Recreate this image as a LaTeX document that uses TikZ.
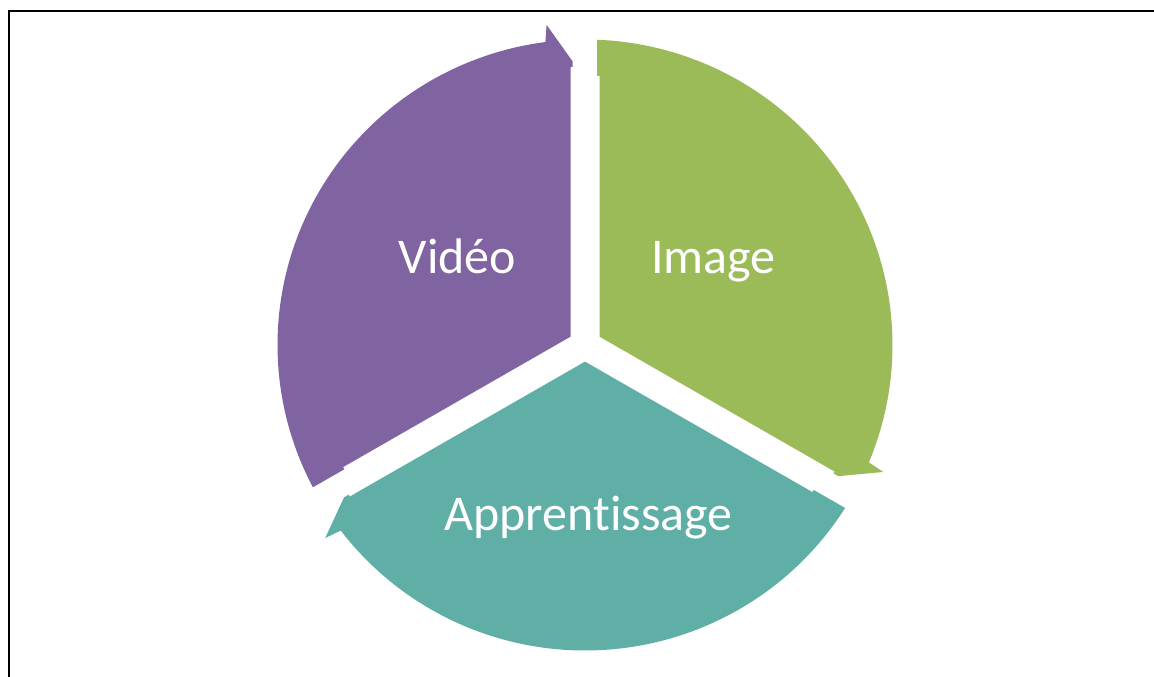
\documentclass[tikz,border=0pt]{standalone}
\usepackage{fontspec}
\newfontfamily\calib[Ligatures={NoCommon,NoContextual,NoRare},Contextuals={NoAlternate}]{Carlito}
\definecolor{segpurple}{HTML}{8064A2}
\definecolor{seggreen}{HTML}{9BBB59}
\definecolor{segteal}{HTML}{5FAFA6}
\tikzset{
  seglabel/.style={text=white, font=\calib\fontsize{50}{60}\selectfont, anchor=base, inner sep=0pt},
  frameline/.style={line width=2pt, black}
}
\newcommand\segshape[1]{%
  \fill[#1] (14.5,8.37) -- (14.5,271) -- (12,271) -- (87.76:307.5pt)
    arc[start angle=87.76, end angle=-22.6, radius=307.5pt]
    -- (-23.2:324.5pt) -- (253.3,-132.0) -- (248.6,-129.35) -- (249.7,-127.44) -- cycle;}
\begin{document}
\begin{tikzpicture}[x=1pt,y=1pt]
\useasboundingbox (0,0) rectangle (1154,677);
\fill[white] (0,0) rectangle (1154,677);
\draw[frameline] (9,0) -- (9,666) -- (1154,666);
\begin{scope}[shift={(585,332)}, yscale=0.9935]
  \begin{scope}
    \segshape{seggreen}
  \end{scope}
  \begin{scope}[rotate=120]
    \segshape{segpurple}
  \end{scope}
  \begin{scope}[rotate=240]
    \segshape{segteal}
  \end{scope}
\end{scope}
\node[seglabel] (vid) at (457.5,403) {Vidéo};
\node[seglabel] (img) at (713.5,403) {Image};
\node[seglabel] (app) at (588.5,146) {Appren\kern0pt tissage};
\end{tikzpicture}
\end{document}
